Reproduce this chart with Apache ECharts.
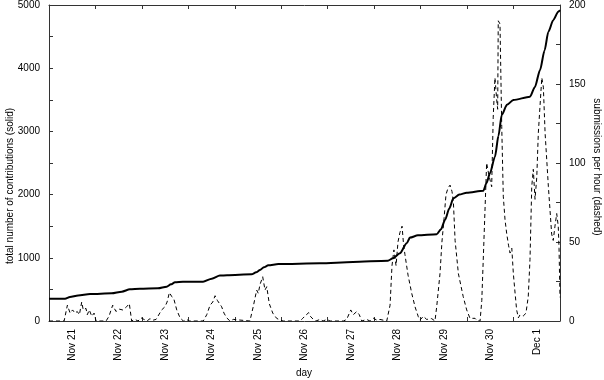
<!DOCTYPE html>
<html>
<head>
<meta charset="utf-8">
<script src="https://cdn.jsdelivr.net/npm/echarts@6/dist/echarts.min.js"></script>
<style>
html,body{margin:0;padding:0;background:#fff;}
#chart{width:604px;height:380px;}
</style>
</head>
<body>
<div id="chart"></div>
<script>
// Day labels (each label centred on its day; ticks at midnight)
const dayLabels = ['Nov 21','Nov 22','Nov 23','Nov 24','Nov 25','Nov 26','Nov 27','Nov 28','Nov 29','Nov 30','Dec 1'];

// Cumulative contributions (solid, left axis); x = hours since Nov 21 00:00
const solidHours = [0, 8.3, 10.8, 15, 21.2, 32.4, 37.6, 41.8, 47, 56.3, 60.8, 63, 65.1, 69.2, 79.6, 84.1, 88.3, 92, 104.7, 107, 109, 111, 113.3, 118.5, 140, 157, 175.1, 177.7, 181.3, 184.8, 186.5, 190.6, 200.3, 202.5, 204.6, 206.8, 208.9, 212, 215.8, 224.4, 226, 227.8, 230.4, 232.2, 233.9, 236.6, 239.9, 248.5, 251, 253.7, 256, 258, 260.5, 263.1, 264];
const solidTotal = [353, 353, 380, 405, 427, 438, 464, 501, 511, 517, 543, 580, 612, 622, 622, 670, 718, 723, 738, 770, 807, 850, 881, 902, 913, 933, 954, 992, 1071, 1229, 1320, 1355, 1372, 1450, 1598, 1780, 1941, 2000, 2030, 2062, 2180, 2337, 2600, 2930, 3259, 3420, 3497, 3549, 3700, 3972, 4280, 4577, 4760, 4894, 4920];

// Submissions per hour (dashed, right axis)
const dashHours = [0, 7.8, 9.5, 10.9, 12.2, 13.4, 14.6, 15.7, 16.9, 17.7, 19.1, 19.8, 20.8, 22.1, 23.3, 24.3, 29.5, 30.5, 31.0, 32.9, 34.6, 36.3, 38.1, 40.1, 41.5, 42.7, 44.4, 46.0, 47.5, 49.1, 50.6, 52.2, 53.7, 55.3, 56.3, 58.2, 59.9, 61.0, 62.2, 63.4, 64.6, 66.0, 67.7, 69.4, 71.1, 72.3, 79.7, 81.5, 83.2, 84.6, 85.8, 87.0, 88.0, 89.2, 90.4, 91.8, 93.5, 95.2, 96.1, 103.8, 105.5, 107.3, 108.1, 109.0, 110.4, 111.6, 112.5, 113.8, 115.6, 117.6, 119.3, 121.0, 129.7, 131.1, 132.8, 134.2, 135.2, 136.6, 137.9, 140.0, 141.6, 143.5, 145.2, 152.1, 153.8, 155.9, 157.2, 159.0, 160.3, 161.6, 164.1, 165.8, 167.6, 169.3, 171.0, 174.5, 176.2, 177.2, 178.2, 179.3, 180.3, 181.3, 182.4, 183.2, 183.9, 185.5, 187.4, 189.1, 190.8, 191.7, 193.4, 195.1, 197.7, 199.4, 200.3, 202.0, 203.0, 204.1, 205.1, 206.1, 207.2, 208.2, 208.9, 209.8, 211.5, 214.0, 215.8, 217.5, 218.4, 220.1, 221.3, 222.7, 223.6, 224.7, 226.1, 227.3, 228.7, 229.5, 230.4, 231.3, 231.8, 232.1, 233.0, 233.9, 234.7, 235.6, 236.5, 237.4, 238.2, 239.1, 239.9, 240.8, 241.6, 242.5, 243.3, 245.0, 246.4, 247.6, 248.5, 249.4, 250.2, 251.1, 252.0, 252.8, 254.6, 255.4, 256.3, 258.0, 259.7, 260.5, 261.4, 262.3, 263.1, 263.5, 264.0];
const dashRate = [0, 0, 10, 5, 7, 5, 6, 4, 12, 7, 8, 4, 7, 3, 5, 0, 0, 1, 3, 10, 6, 7.5, 7, 9, 11, 0, 1, 0, 2, 1, 0, 1.5, 0.5, 1, 0, 7, 9, 12, 18, 15.5, 13.5, 7, 2, 0, 1, 0, 0, 4, 10, 12, 16, 13, 14, 9, 5, 2, 0, 1, 0, 0, 9, 19.6, 17.5, 23, 28, 19.6, 21.7, 11, 5, 1.7, 0.6, 0, 0, 1.7, 3.8, 5.3, 2.7, 1, 0, 1, 0, 1, 0, 0, 1, 7, 4, 6, 4, 0, 1, 0, 1.7, 0.6, 1, 0, 10, 35, 45, 35, 50, 56, 60, 48, 42, 29, 17.5, 9, 2.7, 0.6, 3, 1, 1.5, 0, 9, 30, 50, 65, 80, 84, 86, 82, 76, 51, 30, 15.4, 7, 1.7, 0.6, 1.7, 0, 0, 13, 51, 100, 92, 85, 129, 154, 140, 134, 190, 188, 123, 79, 64, 55, 48, 43, 46, 30, 17.5, 7, 2, 3.8, 3.2, 4.9, 15.4, 39, 85, 96, 77, 91, 119, 154, 148, 119, 85, 55, 51, 60, 68, 60, 46, 15];

const solidData = solidHours.map((h, i) => [h, solidTotal[i]]);
const dashData = dashHours.map((h, i) => [h, dashRate[i]]);

const FONT = '"Liberation Sans", Arial, Helvetica, sans-serif';
const AX = '#333';

const chart = echarts.init(document.getElementById('chart'), null, {renderer: 'canvas'});
chart.setOption({
  animation: false,
  backgroundColor: '#fff',
  grid: {left: 49, right: 44, top: 5, bottom: 59, containLabel: false, outerBoundsMode: 'none'},
  xAxis: [
    {
      type: 'category', data: dayLabels, position: 'bottom', boundaryGap: true,
      axisLine: {show: true, lineStyle: {color: AX, width: 1}},
      axisTick: {show: true, inside: true, length: 4, alignWithLabel: false, lineStyle: {color: AX}},
      axisLabel: {show: true, rotate: 90, margin: 8, color: '#000', fontSize: 10, fontFamily: FONT, interval: 0},
      splitLine: {show: false}
    },
    {
      type: 'value', position: 'top', min: 0, max: 264, interval: 24,
      axisLine: {show: true, onZero: false, lineStyle: {color: AX, width: 1}},
      axisTick: {show: true, inside: true, length: 4, lineStyle: {color: AX}},
      axisLabel: {show: false},
      splitLine: {show: false}
    }
  ],
  yAxis: [
    {
      type: 'value', position: 'left', min: 0, max: 5000, interval: 500,
      axisLine: {show: true, onZero: false, lineStyle: {color: AX, width: 1}},
      axisTick: {show: true, inside: true, length: 4, lineStyle: {color: AX}},
      axisLabel: {show: true, margin: 9, color: '#000', fontSize: 10, fontFamily: FONT,
        formatter: v => (v % 1000 === 0 ? String(v) : '')},
      splitLine: {show: false}
    },
    {
      type: 'value', position: 'right', min: 0, max: 200, interval: 25,
      axisLine: {show: true, onZero: false, lineStyle: {color: AX, width: 1}},
      axisTick: {show: true, inside: true, length: 4, lineStyle: {color: AX}},
      axisLabel: {show: true, margin: 9, color: '#000', fontSize: 10, fontFamily: FONT,
        formatter: v => (v % 50 === 0 ? String(v) : '')},
      splitLine: {show: false}
    }
  ],
  graphic: [
    {type: 'text', x: 10, y: 186, rotation: Math.PI / 2,
      style: {text: 'total number of contributions (solid)', fill: '#000', font: '10px ' + FONT, textAlign: 'center', textVerticalAlign: 'middle'}},
    {type: 'text', x: 597, y: 167, rotation: -Math.PI / 2,
      style: {text: 'submissions per hour (dashed)', fill: '#000', font: '10px ' + FONT, textAlign: 'center', textVerticalAlign: 'middle'}},
    {type: 'text', x: 304, y: 373,
      style: {text: 'day', fill: '#000', font: '10px ' + FONT, textAlign: 'center', textVerticalAlign: 'middle'}}
  ],
  series: [
    {
      name: 'total', type: 'line', xAxisIndex: 1, yAxisIndex: 0, data: solidData,
      showSymbol: false, symbol: 'none', smooth: 0.25, smoothMonotone: 'x',
      lineStyle: {color: '#000', width: 2}
    },
    {
      name: 'rate', type: 'line', xAxisIndex: 1, yAxisIndex: 1, data: dashData,
      showSymbol: false, symbol: 'none',
      lineStyle: {color: '#000', width: 1, type: [4, 3]}
    }
  ]
});
</script>
</body>
</html>
